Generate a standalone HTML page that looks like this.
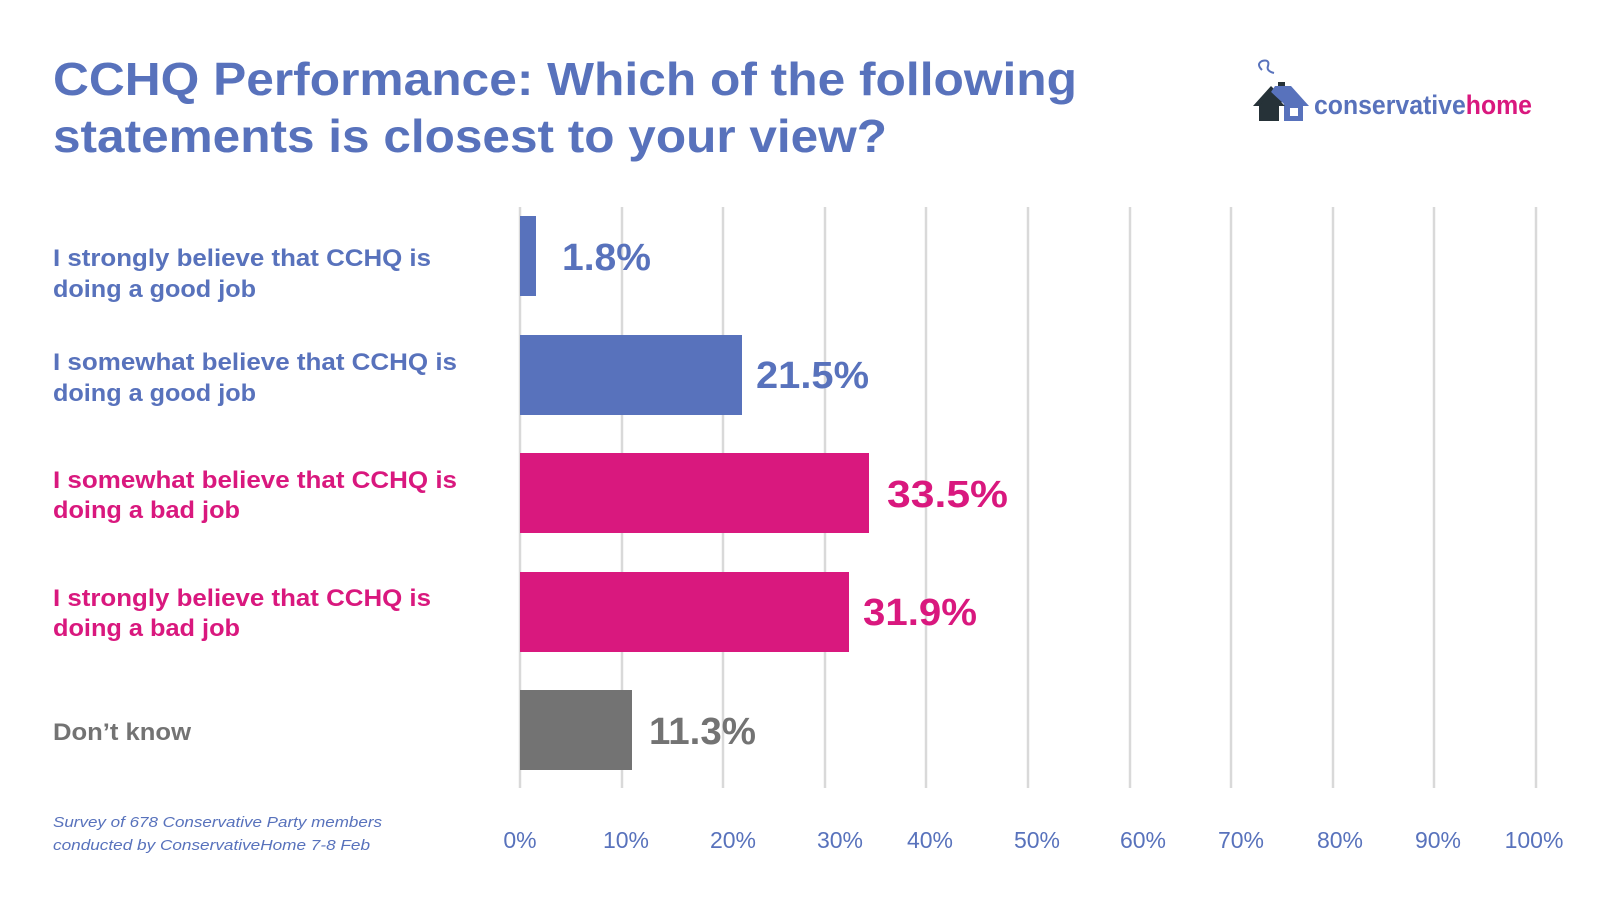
<!DOCTYPE html>
<html><head><meta charset="utf-8"><style>
html,body{margin:0;padding:0;background:#fff}
svg{display:block}
text{font-family:"Liberation Sans",sans-serif}
</style></head><body>
<svg width="1600" height="900" viewBox="0 0 1600 900">
<rect width="1600" height="900" fill="#fff"/>
<g font-weight="bold" font-size="46" fill="#5872BC">
<text x="53" y="95" textLength="1024" lengthAdjust="spacingAndGlyphs">CCHQ Performance: Which of the following</text>
<text x="53" y="152" textLength="834" lengthAdjust="spacingAndGlyphs">statements is closest to your view?</text>
</g>
<!-- logo -->
<g transform="translate(9,0)">
<path d="M1253 70 q-6 -6 0 -9 q8 -2 6 5 q-2 5 6 7" stroke="#5872BC" stroke-width="2" fill="none"/>
<rect x="1269" y="82" width="7" height="10" fill="#263238"/>
<polygon points="1262,86 1244,106 1250,106 1250,121 1270,121 1270,104 1276,100" fill="#263238"/>
<polygon points="1266,86 1262,92 1275,104 1275,121 1294,121 1294,106 1300,106 1282,86" fill="#5872BC"/>
<polygon points="1262,92 1250,106 1276,106" fill="#263238"/>
<rect x="1281" y="108" width="8" height="8" fill="#fff"/>
</g>
<text x="1314" y="114" font-size="27" font-weight="bold" fill="#5872BC" textLength="218" lengthAdjust="spacingAndGlyphs">conservative<tspan fill="#D9187E">home</tspan></text>
<!-- grid -->
<g stroke="#d9d9d9" stroke-width="2.5">
<line x1="520" y1="207" x2="520" y2="788"/><line x1="622" y1="207" x2="622" y2="788"/>
<line x1="723" y1="207" x2="723" y2="788"/><line x1="825" y1="207" x2="825" y2="788"/>
<line x1="926" y1="207" x2="926" y2="788"/><line x1="1028" y1="207" x2="1028" y2="788"/>
<line x1="1130" y1="207" x2="1130" y2="788"/><line x1="1231" y1="207" x2="1231" y2="788"/>
<line x1="1333" y1="207" x2="1333" y2="788"/><line x1="1434" y1="207" x2="1434" y2="788"/>
<line x1="1536" y1="207" x2="1536" y2="788"/>
</g>
<!-- bars -->
<rect x="520" y="216" width="16" height="80" fill="#5872BC"/>
<rect x="520" y="335" width="222" height="80" fill="#5872BC"/>
<rect x="520" y="453" width="349" height="80" fill="#D9187E"/>
<rect x="520" y="572" width="329" height="80" fill="#D9187E"/>
<rect x="520" y="690" width="112" height="80" fill="#737373"/>
<g font-weight="bold" font-size="38">
<text x="562" y="270" fill="#5872BC" textLength="89" lengthAdjust="spacingAndGlyphs">1.8%</text>
<text x="756" y="388" fill="#5872BC" textLength="113" lengthAdjust="spacingAndGlyphs">21.5%</text>
<text x="887" y="507" fill="#D9187E" textLength="121" lengthAdjust="spacingAndGlyphs">33.5%</text>
<text x="863" y="625" fill="#D9187E" textLength="114" lengthAdjust="spacingAndGlyphs">31.9%</text>
<text x="649" y="744" fill="#737373" textLength="107" lengthAdjust="spacingAndGlyphs">11.3%</text>
</g>
<g font-weight="bold" font-size="24">
<text x="53" y="266" fill="#5872BC" textLength="378" lengthAdjust="spacingAndGlyphs">I strongly believe that CCHQ is</text>
<text x="53" y="297" fill="#5872BC" textLength="203" lengthAdjust="spacingAndGlyphs">doing a good job</text>
<text x="53" y="370" fill="#5872BC" textLength="404" lengthAdjust="spacingAndGlyphs">I somewhat believe that CCHQ is</text>
<text x="53" y="401" fill="#5872BC" textLength="203" lengthAdjust="spacingAndGlyphs">doing a good job</text>
<text x="53" y="488" fill="#D9187E" textLength="404" lengthAdjust="spacingAndGlyphs">I somewhat believe that CCHQ is</text>
<text x="53" y="518" fill="#D9187E" textLength="187" lengthAdjust="spacingAndGlyphs">doing a bad job</text>
<text x="53" y="606" fill="#D9187E" textLength="378" lengthAdjust="spacingAndGlyphs">I strongly believe that CCHQ is</text>
<text x="53" y="636" fill="#D9187E" textLength="187" lengthAdjust="spacingAndGlyphs">doing a bad job</text>
<text x="53" y="740" fill="#737373" textLength="138" lengthAdjust="spacingAndGlyphs">Don’t know</text>
</g>
<g font-style="italic" font-size="15" fill="#5872BC">
<text x="53" y="827" textLength="329" lengthAdjust="spacingAndGlyphs">Survey of 678 Conservative Party members</text>
<text x="53" y="850" textLength="317" lengthAdjust="spacingAndGlyphs">conducted by ConservativeHome 7-8 Feb</text>
</g>
<g font-size="23" fill="#5872BC" text-anchor="middle">
<text x="520" y="848">0%</text><text x="626" y="848">10%</text><text x="733" y="848">20%</text>
<text x="840" y="848">30%</text><text x="930" y="848">40%</text><text x="1037" y="848">50%</text>
<text x="1143" y="848">60%</text><text x="1241" y="848">70%</text><text x="1340" y="848">80%</text>
<text x="1438" y="848">90%</text><text x="1534" y="848">100%</text>
</g>
</svg>
</body></html>
